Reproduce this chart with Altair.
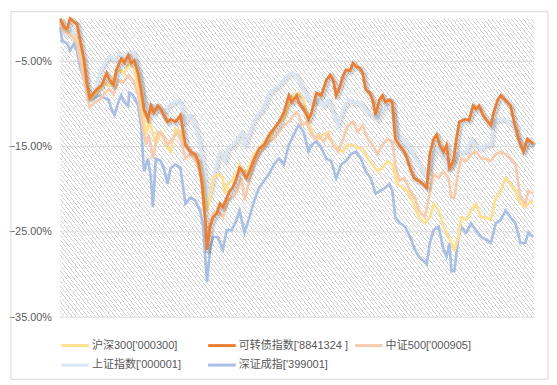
import altair as alt
import pandas as pd
import numpy as np

FONT = "Liberation Sans, Noto Sans CJK SC"

names = ["沪深300['000300]", "可转债指数['8841324 ]", "中证500['000905]", "上证指数['000001]", "深证成指['399001]"]
colors = ["#ffe08f", "#ed7d31", "#f8cbad", "#dae5f3", "#a9bfe3"]
ytick_vals = [-0.35, -0.25, -0.15, -0.05]

# (trading-step index, return in %)
hs300 = [(0,-0.3),(4,-1.4),(9,-1.8),(14,-2.1),(17,-2.6),(22,-5.6),(27,-8.3),(30,-9.5),(35,-9.0),(40,-8.3),(45,-7.5),(50,-7.9),(55,-6.7),(60,-6.0),(65,-6.4),(70,-5.2),(75,-6.0),(80,-8.3),(84,-11.0),(87,-13.6),(90,-12.1),(94,-13.3),(97,-14.8),(102,-13.3),(105,-14.1),(109,-15.2),(112,-15.6),(117,-12.9),(122,-13.3),(127,-14.8),(132,-15.6),(137,-16.4),(142,-17.1),(145,-19.4),(149,-22.5),(152,-21.0),(155,-18.7),(160,-18.2),(165,-18.7),(167,-20.5),(170,-19.4),(174,-19.0),(179,-18.2),(182,-17.1),(185,-17.9),(190,-17.9),(197,-15.9),(202,-15.2),(207,-14.4),(212,-14.1),(217,-12.9),(222,-12.1),(227,-11.8),(232,-10.2),(237,-9.0),(242,-8.7),(247,-9.5),(252,-12.1),(257,-13.6),(262,-14.1),(267,-13.6),(272,-13.3),(277,-14.8),(282,-15.2),(287,-15.6),(292,-14.8),(297,-14.8),(302,-15.2),(307,-15.2),(312,-16.4),(317,-17.1),(322,-17.9),(327,-17.5),(332,-16.7),(337,-17.1),(342,-19.4),(347,-19.8),(352,-20.2),(357,-21.3),(364,-23.3),(370,-24.0),(375,-23.3),(379,-21.7),(384,-22.5),(389,-24.4),(394,-25.6),(397,-26.3),(400,-27.1),(404,-25.6),(407,-23.3),(412,-23.6),(417,-22.5),(422,-21.7),(427,-23.3),(432,-23.3),(437,-23.6),(442,-21.0),(447,-20.2),(452,-18.7),(457,-19.4),(462,-20.2),(467,-21.7),(472,-22.1),(475,-21.7),(480,-21.3)]

kzz = [(0,0.0),(4,-1.0),(7,-1.2),(10,0.0),(14,-0.4),(17,-0.6),(20,-2.4),(24,-4.7),(27,-7.5),(30,-9.3),(37,-8.3),(42,-7.8),(47,-6.4),(50,-7.2),(54,-7.8),(57,-6.0),(62,-4.7),(65,-5.2),(69,-4.3),(72,-5.2),(75,-4.9),(79,-6.4),(82,-8.3),(85,-10.6),(89,-11.8),(92,-10.2),(95,-11.0),(99,-10.2),(102,-10.6),(105,-11.3),(109,-12.1),(112,-11.8),(117,-12.1),(122,-11.3),(127,-14.8),(132,-15.6),(137,-15.9),(140,-16.7),(144,-19.4),(147,-23.3),(149,-27.1),(152,-24.4),(155,-23.3),(159,-22.8),(162,-21.7),(165,-22.1),(169,-21.0),(172,-20.2),(175,-19.8),(179,-18.7),(182,-17.5),(185,-17.9),(189,-18.7),(192,-17.9),(197,-16.4),(202,-15.2),(207,-14.8),(212,-13.6),(217,-12.9),(222,-12.1),(227,-11.0),(232,-9.0),(235,-9.8),(240,-9.0),(242,-9.8),(247,-10.6),(252,-11.8),(255,-11.0),(260,-8.7),(265,-9.0),(270,-7.2),(274,-6.6),(277,-7.2),(280,-9.0),(284,-7.9),(287,-6.7),(290,-6.0),(294,-6.1),(297,-5.2),(300,-5.6),(304,-5.8),(307,-6.4),(310,-8.3),(314,-8.7),(317,-9.5),(320,-11.3),(324,-9.5),(327,-9.0),(330,-9.8),(334,-9.5),(337,-9.8),(340,-14.1),(344,-14.8),(349,-15.6),(352,-16.4),(355,-17.5),(359,-18.7),(364,-19.0),(372,-19.8),(375,-15.9),(379,-14.1),(382,-13.6),(385,-14.8),(389,-15.6),(392,-14.8),(395,-17.5),(399,-16.7),(402,-14.1),(405,-12.1),(410,-11.8),(415,-11.9),(419,-10.2),(422,-10.6),(425,-10.2),(429,-11.3),(432,-11.8),(437,-12.5),(440,-11.0),(444,-9.5),(447,-9.0),(452,-9.6),(457,-10.2),(460,-11.8),(465,-14.1),(470,-15.6),(474,-14.1),(477,-14.4),(480,-14.7)]

zz500 = [(0,-0.6),(4,-1.6),(10,-1.8),(17,-2.9),(22,-6.0),(27,-9.0),(30,-10.4),(35,-9.8),(40,-9.5),(45,-8.7),(50,-8.3),(54,-8.9),(59,-7.2),(64,-7.5),(69,-6.7),(74,-7.2),(79,-9.0),(84,-12.9),(87,-14.8),(90,-13.6),(94,-16.4),(99,-13.3),(104,-13.6),(109,-14.8),(114,-14.1),(119,-13.3),(122,-14.1),(127,-16.4),(132,-15.9),(137,-16.7),(142,-17.5),(145,-21.0),(149,-26.3),(152,-24.0),(155,-22.8),(160,-22.5),(165,-23.3),(170,-21.3),(175,-21.0),(180,-20.2),(184,-18.7),(187,-21.3),(192,-19.0),(197,-17.1),(202,-15.9),(207,-15.2),(212,-14.4),(217,-14.1),(222,-13.3),(227,-12.5),(232,-12.1),(237,-11.3),(240,-11.0),(242,-11.3),(245,-12.5),(250,-12.1),(254,-13.3),(259,-14.1),(262,-13.6),(267,-14.4),(272,-13.6),(277,-14.8),(282,-15.6),(287,-14.1),(292,-12.5),(297,-12.1),(302,-13.3),(307,-12.5),(312,-14.1),(317,-14.8),(322,-15.9),(327,-14.8),(332,-14.1),(337,-14.4),(340,-17.1),(344,-19.0),(349,-18.7),(352,-19.4),(355,-20.2),(360,-21.0),(364,-22.5),(370,-23.3),(375,-20.5),(379,-18.2),(384,-18.7),(389,-17.9),(394,-18.7),(397,-21.0),(400,-21.0),(404,-17.9),(407,-16.4),(412,-16.7),(417,-15.9),(422,-15.6),(427,-16.4),(432,-16.4),(437,-16.7),(442,-15.9),(447,-15.6),(452,-15.9),(457,-16.4),(462,-17.1),(467,-21.0),(472,-21.7),(475,-20.2),(480,-20.5)]

sh = [(0,-0.3),(2,-1.0),(7,-1.8),(12,-1.4),(17,-2.6),(22,-5.2),(27,-8.3),(30,-9.0),(35,-8.7),(40,-6.4),(45,-5.2),(50,-4.4),(55,-4.9),(60,-4.1),(65,-4.4),(70,-3.9),(75,-4.1),(80,-6.4),(85,-9.5),(90,-10.6),(95,-10.2),(100,-10.6),(105,-11.0),(110,-10.2),(115,-9.8),(120,-9.6),(122,-9.8),(127,-12.1),(132,-11.3),(137,-12.5),(142,-14.8),(147,-18.7),(150,-21.0),(154,-19.4),(157,-17.9),(162,-15.6),(167,-16.7),(170,-15.2),(175,-14.8),(180,-14.1),(184,-13.3),(187,-14.8),(192,-13.3),(197,-11.8),(202,-11.0),(207,-10.2),(212,-8.7),(217,-8.3),(224,-7.5),(230,-6.7),(235,-6.4),(240,-6.7),(242,-7.2),(247,-8.3),(252,-9.5),(257,-9.8),(262,-9.5),(267,-10.2),(272,-9.5),(277,-11.0),(282,-12.5),(287,-10.6),(292,-9.5),(297,-9.8),(302,-9.8),(307,-10.2),(312,-11.0),(317,-11.3),(322,-11.8),(327,-10.6),(332,-10.2),(337,-10.6),(342,-13.6),(347,-14.1),(352,-14.8),(357,-15.6),(364,-17.1),(370,-18.2),(375,-17.5),(379,-15.6),(384,-15.2),(389,-16.4),(394,-17.5),(397,-17.1),(402,-15.9),(407,-15.6),(412,-15.6),(417,-14.1),(422,-14.8),(427,-15.2),(432,-14.8),(437,-14.8),(440,-12.1),(445,-11.8),(450,-11.8),(455,-12.1),(460,-12.5),(465,-14.1),(470,-15.2),(475,-14.4),(480,-14.8)]

szcz = [(0,-1.0),(2,-2.6),(7,-2.9),(10,-3.7),(14,-2.9),(17,-3.7),(20,-5.6),(25,-7.5),(30,-9.5),(35,-9.3),(40,-9.0),(45,-9.3),(49,-9.5),(52,-10.6),(55,-11.3),(59,-9.8),(62,-9.0),(65,-9.8),(69,-10.2),(70,-8.7),(74,-9.0),(79,-10.2),(82,-12.5),(85,-17.9),(89,-16.4),(92,-18.7),(94,-22.1),(97,-16.4),(102,-16.7),(105,-17.5),(109,-19.4),(112,-17.5),(117,-17.1),(122,-17.5),(127,-21.7),(132,-21.0),(137,-21.3),(142,-22.5),(145,-24.4),(149,-30.9),(152,-27.1),(155,-25.6),(160,-25.6),(165,-27.1),(169,-24.8),(174,-24.8),(179,-23.6),(182,-22.5),(187,-25.1),(192,-23.3),(197,-21.3),(202,-19.8),(207,-19.0),(212,-18.2),(217,-17.1),(222,-16.4),(227,-17.1),(232,-14.8),(235,-14.1),(240,-12.9),(242,-12.5),(247,-13.3),(252,-15.6),(255,-14.8),(260,-14.4),(265,-15.2),(270,-16.4),(275,-16.7),(280,-18.7),(285,-17.1),(290,-16.7),(295,-15.9),(300,-15.6),(305,-16.4),(310,-17.9),(315,-18.7),(320,-20.5),(325,-20.2),(330,-19.8),(334,-19.4),(337,-20.2),(340,-23.3),(345,-24.0),(350,-24.4),(355,-25.6),(360,-27.1),(364,-27.9),(372,-28.8),(375,-26.3),(379,-24.8),(384,-24.4),(389,-27.1),(392,-27.9),(395,-26.3),(397,-29.6),(400,-29.6),(404,-25.6),(407,-24.4),(412,-25.1),(417,-24.0),(422,-24.8),(427,-25.6),(432,-25.9),(437,-26.3),(442,-24.0),(447,-23.6),(452,-22.5),(457,-23.3),(462,-24.0),(467,-26.3),(472,-26.3),(475,-25.1),(480,-25.6)]

series = [hs300, kzz, zz500, sh, szcz]
rows = []
for name, ser in zip(names, series):
    for t, v in ser:
        rows.append({"t": t, "v": v / 100.0, "s": name})
df = pd.DataFrame(rows)
grid_df = pd.DataFrame({"g": ytick_vals})
one = pd.DataFrame({"k": [0]})

W, H = 481, 303

# diagonal hatch as a striped linear gradient
k = 1.3
period = 4.0
duty = 0.22
v = np.array([1.0, (-1.0 / W) / (k / H)])
p1 = np.array([0.0, 1.0])
corners = np.array([[0, 0], [1, 0], [0, 1], [1, 1]], dtype=float)
proj = ((corners - p1) @ v) / (v @ v)
lo, hi = proj.min(), proj.max()
pa, pb = p1 + v * lo, p1 + v * hi
span_top = abs(proj[1] - proj[0]) / (hi - lo)
N = int(round(W / (period * span_top)))
stops = []
for i in range(N):
    o0 = round(i / N, 5)
    o1 = round((i + duty) / N, 5)
    o2 = round((i + 1) / N, 5)
    stops += [alt.GradientStop(color="#cfcfcf", offset=o0),
              alt.GradientStop(color="#cfcfcf", offset=o1),
              alt.GradientStop(color="#ffffff", offset=o1),
              alt.GradientStop(color="#ffffff", offset=o2)]
grad = alt.LinearGradient(gradient="linear", stops=stops,
                          x1=float(pa[0]), y1=float(pa[1]), x2=float(pb[0]), y2=float(pb[1]))

yscale = alt.Scale(domain=[-0.35, 0], nice=False, zero=False)
xscale = alt.Scale(domain=[0, 481], nice=False, zero=False)
yaxis = alt.Axis(values=ytick_vals, format=".2%", grid=False, domain=False, ticks=False,
                 labelFontSize=11, labelColor="#595959", labelFont=FONT,
                 labelPadding=9, title=None)

frame = alt.Chart(one).mark_rect(fillOpacity=0, stroke="#d9d9d9", strokeWidth=1).encode(
    x=alt.value(-50), x2=alt.value(495), y=alt.value(-7), y2=alt.value(366))

hatch = alt.Chart(one).mark_rect(fill=grad).encode(
    x=alt.value(0), x2=alt.value(W), y=alt.value(0), y2=alt.value(H))

grid = alt.Chart(grid_df).mark_rule(color="#d9d9d9", strokeWidth=1).encode(
    y=alt.Y("g:Q", scale=yscale, axis=yaxis))

def shadow(name, op):
    base = alt.Chart(df).transform_filter(alt.datum.s == name)
    enc = dict(x=alt.X("t:Q", scale=xscale, axis=None),
               y=alt.Y("v:Q", scale=yscale, axis=yaxis))
    a = base.mark_line(color="#000000", opacity=op, strokeWidth=7, xOffset=1.5, yOffset=1.5,
                       strokeJoin="round").encode(**enc)
    b = base.mark_line(color="#000000", opacity=op, strokeWidth=4.5, xOffset=1.5, yOffset=1.5,
                       strokeJoin="round").encode(**enc)
    return [a, b]

legend = alt.Legend(orient="none", legendX=-4.5, legendY=326, direction="horizontal",
                    columns=3, gridAlign="all",
                    columnPadding=0, rowPadding=7, symbolType="M0,0H10", symbolSize=31.36,
                    symbolStrokeWidth=3, labelOffset=25.5, labelFontSize=11.2,
                    labelColor="#595959", labelFont=FONT, labelLimit=400, title=None, padding=0)

color = alt.Color("s:N", scale=alt.Scale(domain=names, range=colors), legend=legend)

def line(name):
    return alt.Chart(df).transform_filter(alt.datum.s == name).mark_line(
        strokeWidth=2.7).encode(
        x=alt.X("t:Q", scale=xscale, axis=None),
        y=alt.Y("v:Q", scale=yscale, axis=yaxis),
        color=color)

layers = [frame, hatch, grid]
layers += shadow(names[3], 0.05)
layers += [line(names[3]), line(names[4]), line(names[0]), line(names[2])]
layers += shadow(names[1], 0.09)
layers += [line(names[1])]

chart = alt.layer(*layers).properties(width=W, height=H, padding=0).configure_view(stroke=None)

chart.save("out.html", embed_options={"renderer": "svg", "actions": False})
